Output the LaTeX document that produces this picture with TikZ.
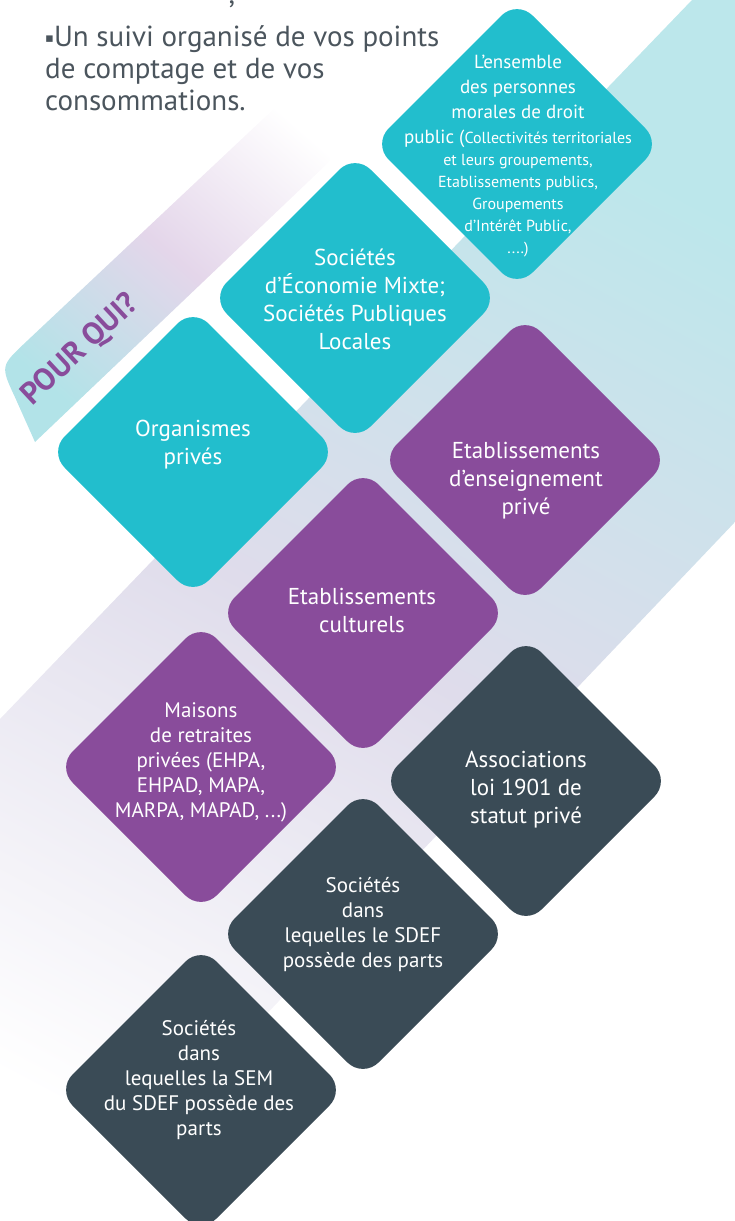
\documentclass[tikz,border=0pt]{standalone}
\usepackage{fontspec}
\setmainfont{PT Sans}
\newfontfamily\puce{DejaVu Sans}
\usetikzlibrary{positioning}
\definecolor{turquoise}{HTML}{22BECD}
\definecolor{prune}{HTML}{894C9B}
\definecolor{ardoise}{HTML}{3A4B56}
\definecolor{gristexte}{HTML}{4B555D}
\definecolor{bandecyan}{HTML}{BCE7EB}
\definecolor{bandelilas}{HTML}{DFDCEB}
\definecolor{ongletcyan}{HTML}{B2E3E8}
\definecolor{ongletlilas}{HTML}{E4D6EA}
\tikzset{
  losange/.style={rounded corners=22pt},
  grand/.style={text=white, align=center, inner sep=0pt, font=\fontsize{23}{28}\selectfont},
  moyen/.style={text=white, align=center, inner sep=0pt, font=\fontsize{21}{25}\selectfont},
}

\begin{document}
\begin{tikzpicture}[x=1pt,y=-1pt]
\useasboundingbox (0,0) rectangle (735,1221);
\shade[top color=bandecyan, bottom color=white, middle color=bandelilas, shading angle=-28] (692,0) -- (735,0) -- (735,522) -- (0,1294) -- (0,719) -- cycle;
\shade[top color=ongletcyan, bottom color=white, middle color=ongletlilas, shading angle=139] (35,442) -- (15.2,397.7) .. controls (0.4,366) .. (25.9,342) -- (330,56) -- (330,161) -- cycle;
\node[text=prune, font=\fontsize{31}{31}\selectfont\bfseries, rotate=43, anchor=base, inner sep=0pt] (pourqui) at (86,356) {POUR QUI?};
\node[text=gristexte, font=\fontsize{29}{32}\selectfont, anchor=base, inner sep=0pt] (virgule) at (232,3) {,};
\node[text=gristexte, font=\fontsize{29}{32}\selectfont, align=left, anchor=north west, inner sep=0pt] (suivi) at (45,25) {{\puce\fontsize{13}{13}\selectfont\raisebox{4pt}{▪}}Un suivi organisé de vos points\\ de comptage et de vos\\ consommations.};
\foreach \x/\y/\couleur in {517/144/turquoise, 355/298/turquoise, 193/452/turquoise, 525/460/prune, 363/613/prune, 201/767/prune, 526/781/ardoise, 363/934/ardoise, 201/1090/ardoise}
\fill[\couleur, losange, shift={(\x,\y)}] (0,-144) -- (144,0) -- (0,144) -- (-144,0) -- cycle;
\node[text=white, align=center, inner sep=0pt, font=\fontsize{16}{22}\selectfont] (ensemble) at (518,156) {{\fontsize{19}{25}\selectfont L’ensemble}\\[3pt] {\fontsize{19}{25}\selectfont des personnes}\\[3pt] {\fontsize{19}{25}\selectfont morales de droit}\\[3pt] {\fontsize{19}{25}\selectfont public (}Collectivités territoriales\\ et leurs groupements,\\ Etablissements publics,\\ Groupements\\ d’Intérêt Public,\\ ....)};
\node[grand] (sem) at (355,299) {Sociétés\\ d’Économie Mixte;\\ Sociétés Publiques\\ Locales};
\node[grand] (organismes) at (193,445) {Organismes\\ privés};
\node[grand] (enseignement) at (526,481) {Etablissements\\ d’enseignement\\ privé};
\node[grand] (culturels) at (362,610) {Etablissements\\ culturels};
\node[moyen] (maisons) at (201,762) {Maisons\\ de retraites\\ privées (EHPA,\\ EHPAD, MAPA,\\ MARPA, MAPAD, ...)};
\node[grand] (associations) at (526,790) {Associations\\ loi 1901 de\\ statut privé};
\node[moyen] (sdef) at (363,925) {Sociétés\\ dans\\ lequelles le SDEF\\ possède des parts};
\node[moyen] (semsdef) at (199,1080) {Sociétés\\ dans\\ lequelles la SEM\\ du SDEF possède des\\ parts};
\end{tikzpicture}
\end{document}
